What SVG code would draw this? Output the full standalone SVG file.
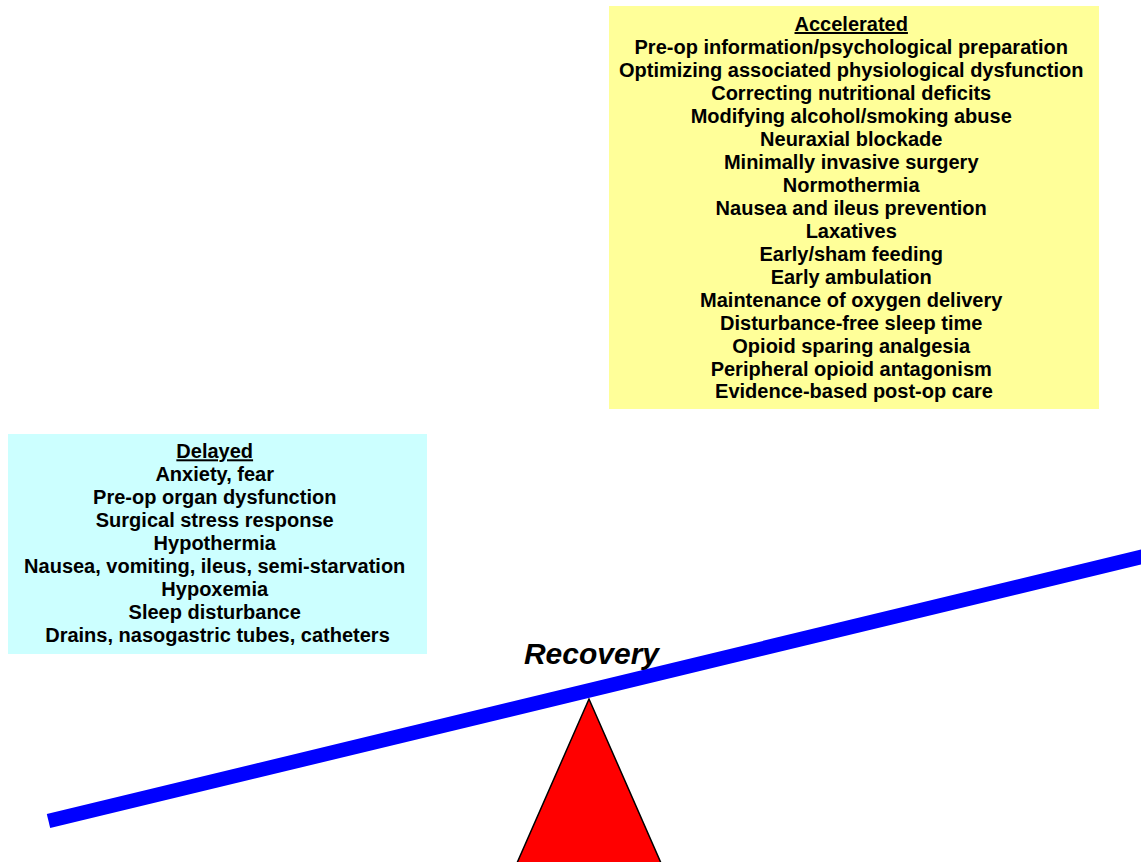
<svg xmlns="http://www.w3.org/2000/svg" width="1141" height="862" viewBox="0 0 1141 862">
<style>
.t{font-family:"Liberation Sans",Arial,sans-serif;font-weight:bold;font-size:20px;fill:#000;text-anchor:middle}
.u{text-decoration:underline}
</style>
<rect width="1141" height="862" fill="#fff"/>
<g id="accelerated">
<rect x="609" y="6" width="490" height="403" fill="#ffff99"/>
<text class="t" x="854">
<tspan class="u" x="854" y="31">Accelerated</tspan>
<tspan x="854" y="54">Pre-op information/psychological preparation</tspan>
<tspan x="854" y="77">Optimizing associated physiological dysfunction</tspan>
<tspan x="854" y="100">Correcting nutritional deficits</tspan>
<tspan x="854" y="123">Modifying alcohol/smoking abuse</tspan>
<tspan x="854" y="146">Neuraxial blockade</tspan>
<tspan x="854" y="169">Minimally invasive surgery</tspan>
<tspan x="854" y="192">Normothermia</tspan>
<tspan x="854" y="214.5">Nausea and ileus prevention</tspan>
<tspan x="854" y="237.5">Laxatives</tspan>
<tspan x="854" y="260.5">Early/sham feeding</tspan>
<tspan x="854" y="283.5">Early ambulation</tspan>
<tspan x="854" y="306.5">Maintenance of oxygen delivery</tspan>
<tspan x="854" y="329.5">Disturbance-free sleep time</tspan>
<tspan x="854" y="352.5">Opioid sparing analgesia</tspan>
<tspan x="854" y="375.5">Peripheral opioid antagonism</tspan>
<tspan x="854" y="398">Evidence-based post-op care</tspan>
</text>
</g>
<g id="delayed">
<rect x="8" y="434" width="419" height="220" fill="#ccffff"/>
<text class="t" x="217.5">
<tspan class="u" x="217.5" y="458.3">Delayed</tspan>
<tspan x="217.5" y="481.2">Anxiety, fear</tspan>
<tspan x="217.5" y="504.1">Pre-op organ dysfunction</tspan>
<tspan x="217.5" y="527">Surgical stress response</tspan>
<tspan x="217.5" y="550">Hypothermia</tspan>
<tspan x="217.5" y="572.9">Nausea, vomiting, ileus, semi-starvation</tspan>
<tspan x="217.5" y="595.8">Hypoxemia</tspan>
<tspan x="217.5" y="618.7">Sleep disturbance</tspan>
<tspan x="217.5" y="641.7">Drains, nasogastric tubes, catheters</tspan>
</text>
</g>
<g id="fulcrum">
<polygon points="589,699 517,863 661,863" fill="#ff0000" stroke="#000" stroke-width="1.5"/>
</g>
<g id="connectors">
<line x1="48.5" y1="821" x2="1150" y2="554.8" stroke="#0000ff" stroke-width="14.5"/>
</g>
<g id="label">
<text x="591.5" y="664" font-family="'Liberation Sans',Arial,sans-serif" font-weight="bold" font-style="italic" font-size="30" text-anchor="middle">Recovery</text>
</g>
</svg>
